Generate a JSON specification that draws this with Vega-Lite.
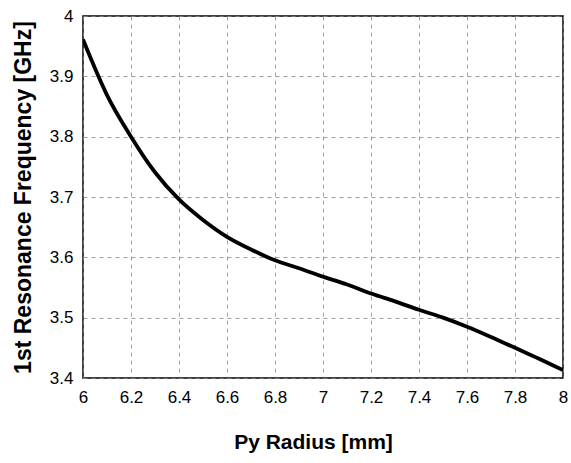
{
  "$schema": "https://vega.github.io/schema/vega-lite/v6.json",
  "autosize": "none",
  "width": 480,
  "height": 362,
  "padding": {"left": 83, "top": 16, "right": 8, "bottom": 85},
  "background": "white",
  "config": {
    "view": {"stroke": "black", "strokeWidth": 1.5},
    "font": "Liberation Sans"
  },
  "data": {
    "values": [
      {"r": 6.0, "f": 3.961},
      {"r": 6.1, "f": 3.869},
      {"r": 6.2, "f": 3.800},
      {"r": 6.3, "f": 3.741},
      {"r": 6.4, "f": 3.696},
      {"r": 6.5, "f": 3.662},
      {"r": 6.6, "f": 3.634},
      {"r": 6.7, "f": 3.613},
      {"r": 6.8, "f": 3.595},
      {"r": 6.9, "f": 3.582},
      {"r": 7.0, "f": 3.568},
      {"r": 7.1, "f": 3.555},
      {"r": 7.2, "f": 3.540},
      {"r": 7.3, "f": 3.527},
      {"r": 7.4, "f": 3.513},
      {"r": 7.5, "f": 3.500},
      {"r": 7.6, "f": 3.485},
      {"r": 7.7, "f": 3.468},
      {"r": 7.8, "f": 3.450},
      {"r": 7.9, "f": 3.432},
      {"r": 8.0, "f": 3.413}
    ]
  },
  "mark": {"type": "line", "color": "black", "strokeWidth": 3.8, "interpolate": "monotone", "clip": true},
  "encoding": {
    "x": {
      "field": "r", "type": "quantitative",
      "scale": {"domain": [6, 8], "nice": false, "zero": false},
      "axis": {
        "title": "Py Radius [mm]",
        "values": [6, 6.2, 6.4, 6.6, 6.8, 7, 7.2, 7.4, 7.6, 7.8, 8],
        "labelExpr": "format(datum.value, '.1~f')",
        "domain": false, "ticks": false,
        "labelFontSize": 17, "labelColor": "black", "labelPadding": 11,
        "labelFlush": false,
        "titleFontSize": 21, "titleFontWeight": "bold", "titleColor": "black", "titlePadding": 26,
        "titleX": 230, "titleAnchor": "middle",
        "grid": true, "gridColor": "#888", "gridDash": [4, 4], "gridWidth": 0.8
      }
    },
    "y": {
      "field": "f", "type": "quantitative",
      "scale": {"domain": [3.4, 4], "nice": false, "zero": false},
      "axis": {
        "title": "1st Resonance Frequency [GHz]",
        "values": [3.4, 3.5, 3.6, 3.7, 3.8, 3.9, 4],
        "labelExpr": "format(datum.value, '.1~f')",
        "domain": false, "ticks": false,
        "labelFontSize": 17, "labelColor": "black", "labelPadding": 10,
        "labelFlush": false,
        "titleFontSize": 23, "titleFontWeight": "bold", "titleColor": "black", "titlePadding": 14,
        "grid": true, "gridColor": "#888", "gridDash": [4, 4], "gridWidth": 0.8
      }
    }
  }
}
